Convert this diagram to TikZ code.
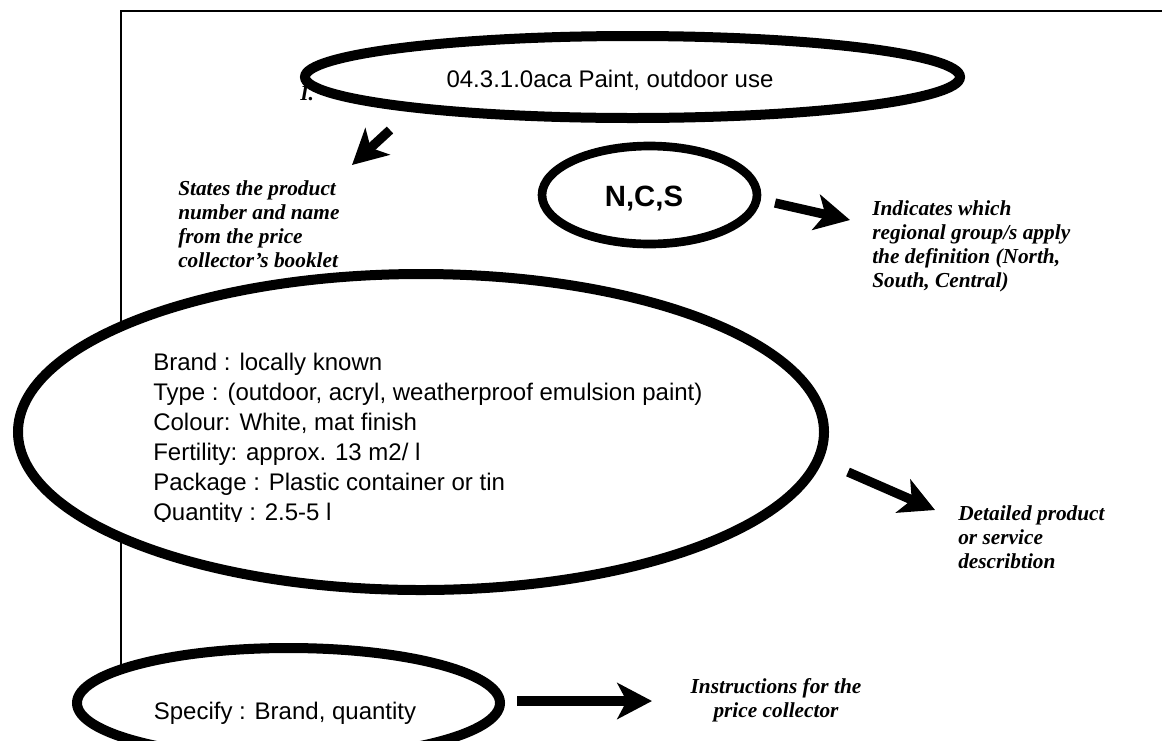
\documentclass[tikz,border=0pt]{standalone}
\usepackage{fontspec}
\setmainfont{Liberation Serif}
\setsansfont{Liberation Sans}
\usetikzlibrary{arrows.meta,shapes.geometric}

\tikzset{
  oval/.style={ellipse,draw,fill=white,line width=7.5pt,inner sep=0pt},
  boxtext/.style={font=\sffamily\fontsize{18}{22.5}\selectfont,inner sep=0pt},
  note/.style={font=\bfseries\itshape\fontsize{16}{18}\selectfont,inner sep=0pt,align=left,anchor=north west},
  fat/.style={line width=7pt,-{Stealth[length=26pt,width=27pt,inset=7pt]}}
}

\begin{document}
\begin{tikzpicture}[x=0.75pt,y=-0.75pt]
\clip (0,0) rectangle (1162,740);

% frame
\draw[line width=1pt] (121,740) -- (121,11) -- (1162,11);

% text hidden under the top oval
\node[font=\bfseries\itshape\fontsize{16}{18}\selectfont,inner sep=0pt,anchor=base west] (hidden) at (300,100) {I.};

\node[oval,minimum width=491.25pt,minimum height=61.5pt] (codeoval) at (632.5,77) {};
\node[boxtext,anchor=base] (code) at (610,87) {04.3.1.0aca Paint, outdoor use};

\node[oval,line width=6.5pt,minimum width=161.25pt,minimum height=73.5pt] (regoval) at (649.5,195) {};
\node[boxtext,font=\sffamily\bfseries\fontsize{22}{26}\selectfont,anchor=base] (reg) at (644,206) {N,C,S};

\node[oval,minimum width=604.5pt,minimum height=237pt] (descoval) at (421,432) {};
\begin{scope}
\clip (140,330) rectangle (760,521);
\node[boxtext,align=left,anchor=north west] (desc) at (153,349) {\strut Brand : locally known\\
Type : (outdoor, acryl, weatherproof emulsion paint)\\
Colour: White, mat finish\\
Fertility: approx. 13 m2/ l\\
Package : Plastic container or tin\\
Quantity : 2.5-5 l};
\end{scope}

\node[oval,minimum width=317.25pt,minimum height=82.5pt] (specoval) at (288.5,703) {};
\node[boxtext,anchor=base] (spec) at (285,719) {Specify : Brand, quantity};

% notes
\node[note] (codenote) at (178,178) {\strut States the product\\number and name\\from the price\\collector's booklet};
\node[note] (regnote) at (872,198) {\strut Indicates which\\regional group/s apply\\the definition (North,\\South, Central)};
\node[note] (descnote) at (958,503) {\strut Detailed product\\or service\\describtion};
\node[note,align=center,anchor=north] (specnote) at (776,676) {\strut Instructions for the\\price collector};

\coordinate (a1s) at (390,130); \coordinate (a1e) at (352,165);
\coordinate (a2s) at (775,203); \coordinate (a2e) at (850,220);
\coordinate (a3s) at (848,472); \coordinate (a3e) at (935,510);
\coordinate (a4s) at (517,701); \coordinate (a4e) at (652,701);

\draw[fat] (a1s) -- (a1e);
\draw[fat] (a2s) -- (a2e);
\draw[fat] (a3s) -- (a3e);
\draw[fat] (a4s) -- (a4e);
\end{tikzpicture}
\end{document}
